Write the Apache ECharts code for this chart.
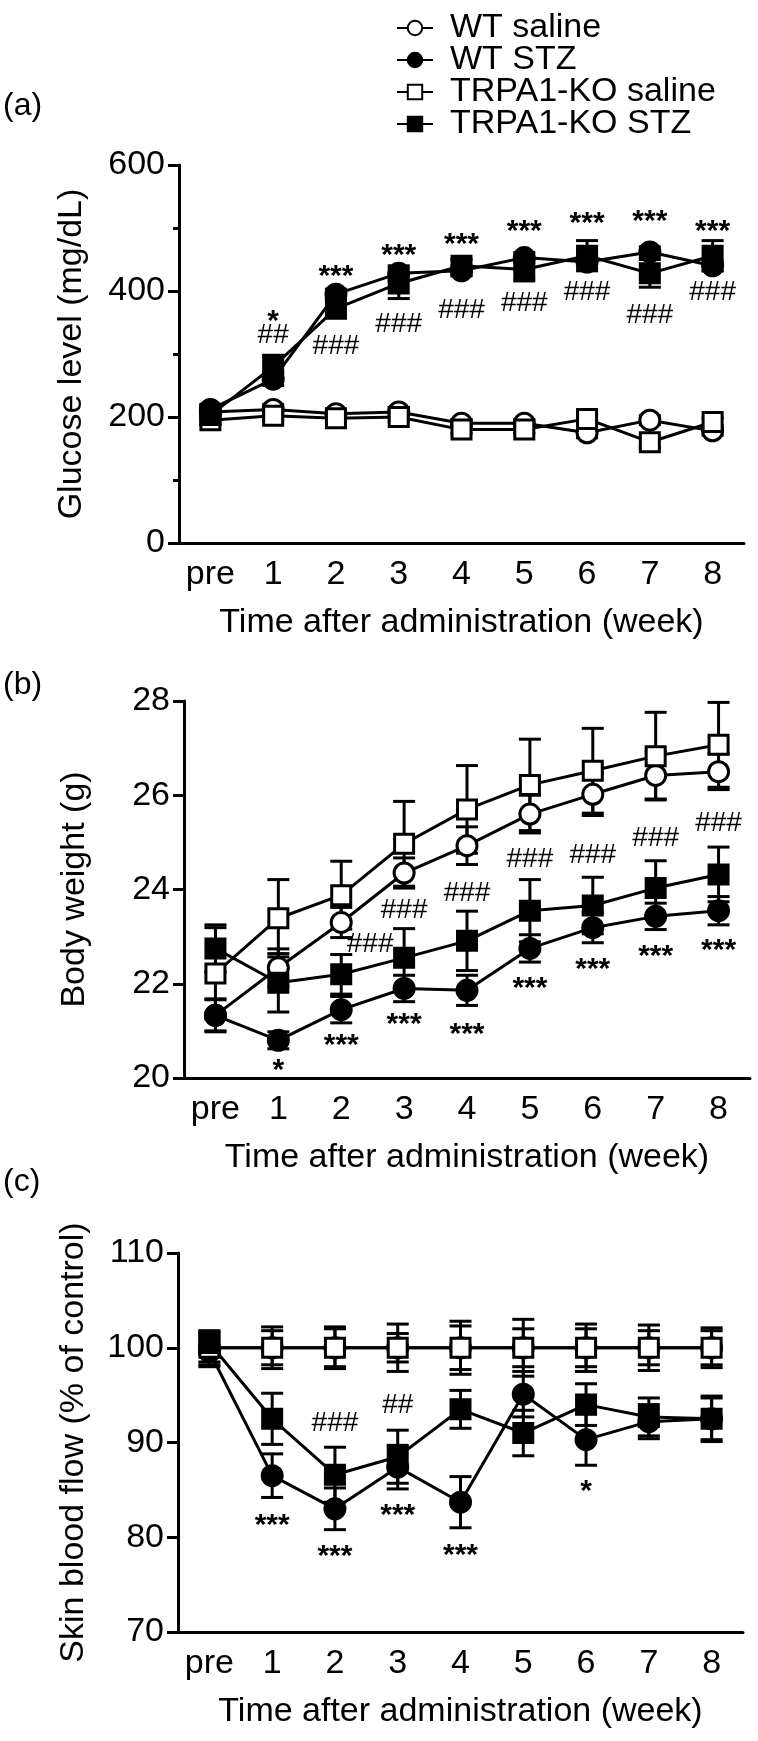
<!DOCTYPE html>
<html>
<head>
<meta charset="utf-8">
<script src="https://cdn.jsdelivr.net/npm/echarts@6/dist/echarts.min.js"></script>
<style>
  html, body { margin: 0; padding: 0; background: #fff; }
  #chart { width: 758px; height: 1741px; }
</style>
</head>
<body>
<div id="chart"></div>
<script>
const weeks = ['pre', '1', '2', '3', '4', '5', '6', '7', '8'];
const groupNames = ['WT saline', 'WT STZ', 'TRPA1-KO saline', 'TRPA1-KO STZ'];

// (a) glucose level, mg/dL (mean, SEM)
const glucoseWtSaline = [208, 212, 205, 208, 190, 190, 175, 195, 178];
const glucoseWtSalineSem = [8, 8, 6, 7, 6, 6, 8, 7, 7];
const glucoseWtStz = [212, 260, 395, 428, 432, 453, 446, 462, 440];
const glucoseWtStzSem = [8, 10, 8, 12, 8, 8, 10, 8, 8];
const glucoseKoSaline = [195, 202, 198, 200, 180, 180, 197, 160, 192];
const glucoseKoSalineSem = [7, 7, 6, 7, 6, 6, 8, 8, 6];
const glucoseKoStz = [203, 280, 372, 412, 440, 434, 456, 428, 456];
const glucoseKoStzSem = [8, 18, 14, 24, 10, 18, 24, 22, 24];
const glucoseMarks = [[1, 364], [1, 330], [2, 435], [2, 313], [3, 469], [3, 347], [4, 486], [4, 370],
  [5, 506], [5, 381], [6, 520], [6, 398], [7, 523], [7, 361], [8, 506], [8, 398]];
const glucoseMarkText = ['*', '##', '***', '###', '***', '###', '***', '###',
  '***', '###', '***', '###', '***', '###', '***', '###'];

// (b) body weight, g
const weightWtSaline = [21.33, 22.34, 23.3, 24.35, 24.93, 25.6, 26.02, 26.42, 26.5];
const weightWtSalineSem = [0.35, 0.4, 0.32, 0.32, 0.4, 0.4, 0.45, 0.5, 0.38];
const weightWtStz = [21.33, 20.8, 21.45, 21.9, 21.86, 22.75, 23.19, 23.43, 23.55];
const weightWtStzSem = [0.33, 0.18, 0.28, 0.28, 0.32, 0.29, 0.32, 0.28, 0.3];
const weightKoSaline = [22.22, 23.39, 23.88, 24.97, 25.7, 26.22, 26.52, 26.83, 27.07];
const weightKoSalineSem = [0.97, 0.82, 0.72, 0.9, 0.93, 0.97, 0.9, 0.93, 0.9];
const weightKoStz = [22.75, 22.02, 22.2, 22.55, 22.91, 23.55, 23.66, 24.03, 24.32];
const weightKoStzSem = [0.5, 0.62, 0.42, 0.62, 0.63, 0.66, 0.6, 0.58, 0.58];
const weightMarks = [[1, 20.32], [2, 20.85], [2.46, 22.83], [3, 21.29], [3, 23.56], [4, 21.09], [4, 23.92],
  [5, 22.06], [5, 24.65], [6, 22.46], [6, 24.73], [7, 22.75], [7, 25.09], [8, 22.87], [8, 25.41]];
const weightMarkText = ['*', '***', '###', '***', '###', '***', '###',
  '***', '###', '***', '###', '***', '###', '***', '###'];

// (c) skin blood flow, % of control
const flowWtSaline = [100, 100, 100, 100, 100, 100, 100, 100, 100];
const flowWtSalineSem = [1.5, 2.2, 2.2, 2.5, 2.8, 3.0, 2.5, 2.4, 2.1];
const flowWtStz = [99.6, 86.5, 83.0, 87.4, 83.7, 95.1, 90.3, 92.2, 92.5];
const flowWtStzSem = [1.6, 2.3, 2.2, 2.3, 2.7, 2.4, 2.7, 1.8, 2.2];
const flowKoSaline = [100, 100, 100, 100, 100, 100, 100, 100, 100];
const flowKoSalineSem = [1.8, 1.8, 2.0, 1.5, 2.3, 2.0, 2.0, 1.8, 1.8];
const flowKoStz = [100.5, 92.5, 86.6, 88.5, 93.5, 91.0, 94.0, 92.7, 92.5];
const flowKoStzSem = [1.2, 2.7, 2.9, 2.8, 2.0, 2.4, 2.2, 2.0, 2.4];
const flowMarks = [[1, 82.1], [2, 92.0], [2, 78.8], [3, 93.9], [3, 83.1], [4, 78.9], [6, 85.6]];
const flowMarkText = ['***', '###', '***', '##', '***', '***', '*'];

const FONT = '"Liberation Sans", Arial, Helvetica, sans-serif';

const chart = echarts.init(document.getElementById('chart'), null, { renderer: 'canvas' });

const symbols = ['circle', 'circle', 'rect', 'rect'];
const fills = ['#fff', '#000', '#fff', '#000'];

function errorBars(params, api) {
  const x = api.value(0), y = api.value(1), e = api.value(2);
  const hi = api.coord([x, y + e]);
  const lo = api.coord([x, y - e]);
  const hw = 11;
  const st = { stroke: '#000', lineWidth: 3 };
  return {
    type: 'group',
    children: [
      { type: 'line', shape: { x1: hi[0], y1: hi[1], x2: lo[0], y2: lo[1] }, style: st },
      { type: 'line', shape: { x1: hi[0] - hw, y1: hi[1], x2: hi[0] + hw, y2: hi[1] }, style: st },
      { type: 'line', shape: { x1: lo[0] - hw, y1: lo[1], x2: lo[0] + hw, y2: lo[1] }, style: st }
    ]
  };
}

function marksRenderer(texts) {
  return function (params, api) {
    const xv = api.value(0), yv = api.value(1);
    const base = Math.floor(xv);
    const p = api.coord([base, yv]);
    const band = api.size([1, 0])[0];
    const t = texts[params.dataIndex];
    const star = t.indexOf('*') >= 0;
    const fs = star ? 30 : 28;
    return {
      type: 'text',
      x: p[0] + (xv - base) * band,
      y: p[1] + (star ? 8 : 0),
      style: {
        text: t, fontSize: fs, fontFamily: FONT, fill: '#000',
        align: 'center', verticalAlign: 'middle', fontWeight: star ? 'bold' : 'normal'
      }
    };
  };
}

function panelSeries(idx, means, sems, marks, markText) {
  const out = [];
  means.forEach((m, g) => {
    out.push({
      type: 'custom', name: 'err' + idx + g, xAxisIndex: idx, yAxisIndex: idx,
      renderItem: errorBars, z: 2, silent: true,
      data: m.map((v, i) => [i, v, sems[g][i]])
    });
  });
  means.forEach((m, g) => {
    out.push({
      type: 'line', name: groupNames[g], xAxisIndex: idx, yAxisIndex: idx,
      data: m, symbol: symbols[g], symbolSize: g >= 2 ? 19 : 20, showSymbol: true,
      lineStyle: { color: '#000', width: 3 },
      itemStyle: { color: fills[g], borderColor: '#000', borderWidth: 3, opacity: 1 },
      z: 3, silent: true
    });
  });
  out.push({
    type: 'custom', name: 'marks' + idx, xAxisIndex: idx, yAxisIndex: idx,
    renderItem: marksRenderer(markText), z: 4, silent: true, data: marks
  });
  return out;
}

const grids = [
  { left: 179, width: 565, top: 165, height: 378 },
  { left: 184, width: 566, top: 701, height: 377 },
  { left: 178, width: 565, top: 1253, height: 379 }
];

const axisStyle = { color: '#000', width: 3 };
const labelStyle = { color: '#000', fontSize: 34, fontFamily: FONT };

const xAxes = grids.map((g, i) => ({
  type: 'category', gridIndex: i, data: weeks, boundaryGap: true,
  axisLine: { lineStyle: axisStyle },
  axisTick: { alignWithLabel: true, length: 10, lineStyle: axisStyle },
  axisLabel: Object.assign({ margin: 15, interval: 0, hideOverlap: false }, labelStyle),
  name: 'Time after administration (week)', nameLocation: 'middle', nameGap: 63,
  nameTextStyle: labelStyle
}));

const yDefs = [
  { min: 0, max: 600, interval: 200, name: 'Glucose level (mg/dL)', gap: 90, minor: true },
  { min: 20, max: 28, interval: 2, name: 'Body weight (g)', gap: 92, minor: false },
  { min: 70, max: 110, interval: 10, name: 'Skin blood flow (% of control)', gap: 87, minor: false }
];

const yAxes = yDefs.map((d, i) => ({
  type: 'value', gridIndex: i, min: d.min, max: d.max, interval: d.interval,
  splitLine: { show: false },
  axisLine: { show: true, lineStyle: axisStyle },
  axisTick: { show: true, length: 11, lineStyle: axisStyle },
  minorTick: { show: d.minor, splitNumber: 2, length: 6, lineStyle: axisStyle },
  axisLabel: Object.assign({ margin: 14 }, labelStyle),
  name: d.name, nameLocation: 'middle', nameGap: d.gap, nameRotate: 90,
  nameTextStyle: labelStyle
}));

const series = [].concat(
  panelSeries(0, [glucoseWtSaline, glucoseWtStz, glucoseKoSaline, glucoseKoStz],
    [glucoseWtSalineSem, glucoseWtStzSem, glucoseKoSalineSem, glucoseKoStzSem], glucoseMarks, glucoseMarkText),
  panelSeries(1, [weightWtSaline, weightWtStz, weightKoSaline, weightKoStz],
    [weightWtSalineSem, weightWtStzSem, weightKoSalineSem, weightKoStzSem], weightMarks, weightMarkText),
  panelSeries(2, [flowWtSaline, flowWtStz, flowKoSaline, flowKoStz],
    [flowWtSalineSem, flowWtStzSem, flowKoSalineSem, flowKoStzSem], flowMarks, flowMarkText)
);

const panelLabel = (text, top) => ({
  type: 'text', left: 3, top: top,
  style: { text: text, fontSize: 32, fontFamily: FONT, fill: '#000' }
});

chart.setOption({
  animation: false,
  backgroundColor: '#fff',
  grid: grids,
  xAxis: xAxes,
  yAxis: yAxes,
  legend: {
    orient: 'vertical', left: 391, top: 6, itemGap: -2,
    itemWidth: 36, itemHeight: 18,
    data: groupNames,
    textStyle: { color: '#000', fontSize: 34, fontFamily: FONT, padding: [0, 0, 0, 12] },
    selectedMode: false
  },
  graphic: [panelLabel('(a)', 90), panelLabel('(b)', 669), panelLabel('(c)', 1166)],
  series: series
});
</script>
</body>
</html>
